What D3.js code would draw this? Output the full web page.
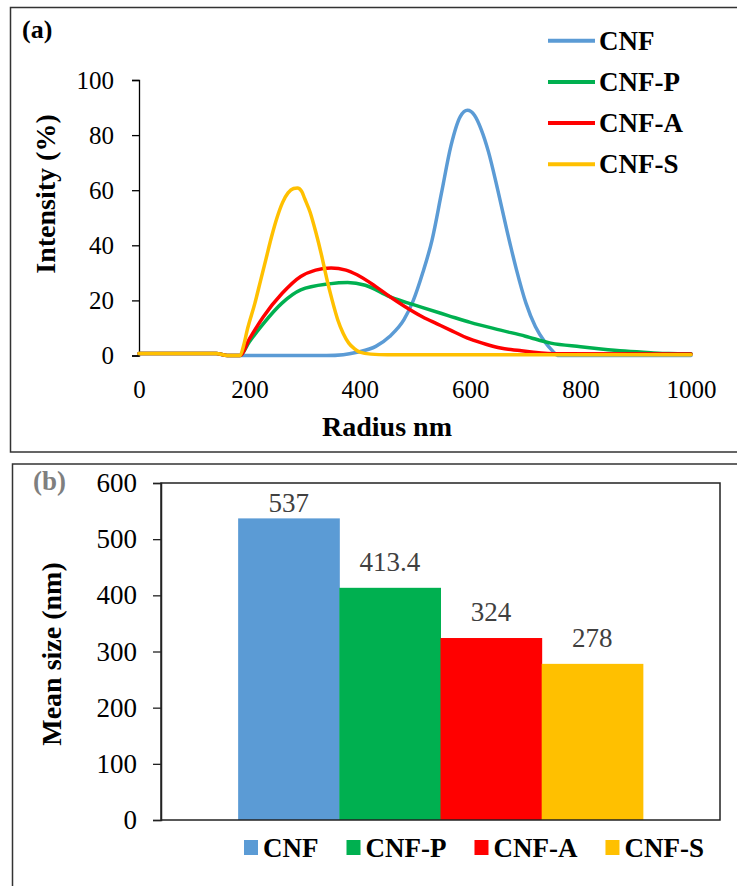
<!DOCTYPE html>
<html>
<head>
<meta charset="utf-8">
<script src="https://cdn.jsdelivr.net/npm/d3@7"></script>
<style>
  html, body { margin: 0; padding: 0; background: #fff; }
  svg { display: block; }
  svg text { font-family: "Liberation Serif", "DejaVu Serif", "Times New Roman", Times, serif; }
</style>
</head>
<body>
<svg id="chart" width="737" height="886"></svg>
<script>
// ---------- Data (panel a: intensity distributions) ----------
const seriesNames = ["CNF", "CNF-P", "CNF-A", "CNF-S"];
const seriesColors = ["#5B9BD5", "#00B050", "#FF0000", "#FFC000"];

const cnfX  = [0,140,160,340,370,395,429,454,480,497,514,531,548,565,582,595,608,620,633,650,667,684,701,718,735,750,758,1000];
const cnfY  = [0.7,0.7,0,0,0.3,1.2,3.3,6.9,13,20,30,42,59,76,86.7,89,87.1,82,74,60,45,31,19,10.5,5,1.5,0,0];

const cnfPX = [0,140,160,183,200,225,259,293,344,378,410,454,514,560,600,655,700,746,800,837,880,927,960,1000];
const cnfPY = [0.7,0.7,0,0,5,11.5,19,23.8,26,26.5,25.5,21.4,17.4,14.5,12,9.2,7,4.5,3.2,2.4,1.6,1.0,0.7,0.6];

const cnfAX = [0,140,160,183,200,225,259,293,320,348,375,395,429,454,480,514,540,564,599,630,655,690,715,760,1000];
const cnfAY = [0.7,0.7,0,0,6,14,22.5,28.7,31,31.8,31,29.3,25,21.4,18,14,11.5,9.2,6,4,2.7,1.8,1.2,0.6,0.5];

const cnfSX = [0,140,160,183,190,196,210,220,230,240,250,260,270,280,287,295,300,310,320,330,340,350,360,370,380,390,400,420,450,1000];
const cnfSY = [0.7,0.7,0,0,4,9.2,19,27,35,43,50,55.5,59,60.6,60.8,59.5,57,52,45,37,28,20,13,8,4.5,2.5,1.2,0.5,0.3,0.3];

const xTicksA = [0, 200, 400, 600, 800, 1000];
const yTicksA = [0, 20, 40, 60, 80, 100];

// ---------- Data (panel b: mean size) ----------
const meanSizes = [537, 413.4, 324, 278];
const meanLabels = ["537", "413.4", "324", "278"];
const yTicksB = [0, 100, 200, 300, 400, 500, 600];

const svg = d3.select("#chart");
const FONT = '"Liberation Serif", "DejaVu Serif", "Times New Roman", Times, serif';

// ================= Panel (a) =================
svg.append("rect").attr("x", 10.5).attr("y", 7.5).attr("width", 740).attr("height", 444.5)
  .attr("fill", "none").attr("stroke", "#333").attr("stroke-width", 1.5);

svg.append("text").attr("x", 22).attr("y", 38).attr("font-size", 26).attr("font-weight", "bold")
  .attr("font-family", FONT).attr("fill", "#000").text("(a)");

const xA = d3.scaleLinear().domain([0, 1000]).range([139, 691]);
const yA = d3.scaleLinear().domain([0, 100]).range([355.5, 80]);

const yAxisA = svg.append("g").attr("transform", "translate(139,0)")
  .call(d3.axisLeft(yA).tickValues(yTicksA).tickSize(7).tickPadding(18).tickFormat(d3.format("d")));
yAxisA.attr("font-family", FONT);
yAxisA.select(".domain").attr("stroke", "#000").attr("stroke-width", 1.3);
yAxisA.selectAll(".tick line").attr("stroke", "#000").attr("stroke-width", 1.3);
yAxisA.selectAll(".tick text").attr("font-size", 25).attr("font-family", FONT).attr("fill", "#000");

const xAxisA = svg.append("g").attr("transform", "translate(0,355.5)")
  .call(d3.axisBottom(xA).tickValues(xTicksA).tickSize(0).tickPadding(0).tickFormat(d3.format("d")));
xAxisA.attr("font-family", FONT);
xAxisA.select(".domain").remove();
xAxisA.selectAll(".tick text").attr("font-size", 25).attr("font-family", FONT).attr("fill", "#000")
  .attr("dy", 0).attr("y", 42.5);

svg.append("text").attr("x", 387).attr("y", 435.5).attr("text-anchor", "middle")
  .attr("font-family", FONT).attr("font-size", 28).attr("font-weight", "bold").text("Radius nm");

svg.append("text").attr("transform", "translate(55,194) rotate(-90)").attr("text-anchor", "middle")
  .attr("font-family", FONT).attr("font-size", 28).attr("font-weight", "bold").text("Intensity (%)");

const seriesA = [
  { name: seriesNames[0], xs: cnfX,  ys: cnfY,  color: seriesColors[0] },
  { name: seriesNames[1], xs: cnfPX, ys: cnfPY, color: seriesColors[1] },
  { name: seriesNames[2], xs: cnfAX, ys: cnfAY, color: seriesColors[2] },
  { name: seriesNames[3], xs: cnfSX, ys: cnfSY, color: seriesColors[3] }
];

const line = d3.line().x(d => xA(d[0])).y(d => yA(d[1])).curve(d3.curveMonotoneX);

svg.append("g").selectAll("path").data(seriesA).join("path")
  .attr("d", s => line(s.xs.map((x, i) => [x, s.ys[i]])))
  .attr("fill", "none").attr("stroke", s => s.color).attr("stroke-width", 3.5)
  .attr("stroke-linejoin", "round").attr("stroke-linecap", "round");

// legend (a)
const legA = svg.append("g");
seriesA.forEach((s, i) => {
  const ly = 40.7 + i * 41.2;
  legA.append("line").attr("x1", 548).attr("x2", 595).attr("y1", ly).attr("y2", ly)
    .attr("stroke", s.color).attr("stroke-width", 4);
  legA.append("text").attr("x", 599).attr("y", ly + 9).attr("font-size", 27).attr("font-weight", "bold")
    .attr("font-family", FONT).attr("fill", "#000").text(s.name);
});

// ================= Panel (b) =================
svg.append("rect").attr("x", 12.5).attr("y", 464).attr("width", 740).attr("height", 440)
  .attr("fill", "none").attr("stroke", "#333").attr("stroke-width", 1.5);

svg.append("text").attr("x", 33).attr("y", 490).attr("font-size", 27).attr("font-weight", "bold")
  .attr("font-family", FONT).attr("fill", "#7f7f7f").text("(b)");

const plotL = 161, plotR = 720, plotT = 483, plotB = 820;
const yB = d3.scaleLinear().domain([0, 600]).range([plotB, plotT]);
const xCat = d3.scaleBand().domain(["all"]).range([plotL, plotR]).paddingInner(0).paddingOuter(0);
const gapFrac = 0.138; // Excel gap width on each side of the cluster
const xB = d3.scaleBand().domain(seriesNames)
  .range([xCat("all") + xCat.bandwidth() * gapFrac, xCat("all") + xCat.bandwidth() * (1 - gapFrac)])
  .padding(0);

svg.append("g").selectAll("rect").data(meanSizes).join("rect")
  .attr("x", (d, i) => xB(seriesNames[i]))
  .attr("width", xB.bandwidth() + 0.5)
  .attr("y", d => yB(d))
  .attr("height", d => yB(0) - yB(d))
  .attr("fill", (d, i) => seriesColors[i]);

svg.append("g").selectAll("text").data(meanSizes).join("text")
  .attr("x", (d, i) => xB(seriesNames[i]) + xB.bandwidth() / 2)
  .attr("y", d => Math.max(yB(d) - 17, plotT + 29))
  .attr("text-anchor", "middle").attr("font-size", 27).attr("fill", "#404040")
  .attr("font-family", FONT)
  .text((d, i) => meanLabels[i]);

// plot area border
svg.append("rect").attr("x", plotL).attr("y", plotT).attr("width", plotR - plotL).attr("height", plotB - plotT)
  .attr("fill", "none").attr("stroke", "#222").attr("stroke-width", 1.5);

const yAxisB = svg.append("g").attr("transform", `translate(${plotL},0)`)
  .call(d3.axisLeft(yB).tickValues(yTicksB).tickSize(8).tickPadding(16).tickFormat(d3.format("d")));
yAxisB.attr("font-family", FONT);
yAxisB.select(".domain").attr("stroke", "#222").attr("stroke-width", 1.5);
yAxisB.selectAll(".tick line").attr("stroke", "#222").attr("stroke-width", 1.3);
yAxisB.selectAll(".tick text").attr("font-size", 27).attr("font-family", FONT).attr("fill", "#000");

svg.append("text").attr("transform", "translate(61,654) rotate(-90)").attr("text-anchor", "middle")
  .attr("font-family", FONT).attr("font-size", 28).attr("font-weight", "bold").text("Mean size (nm)");

// legend (b)
const legB = svg.append("g");
let lx = 244;
seriesNames.forEach((name, i) => {
  legB.append("rect").attr("x", lx).attr("y", 840).attr("width", 14).attr("height", 15)
    .attr("fill", seriesColors[i]);
  const t = legB.append("text").attr("x", lx + 19).attr("y", 857).attr("font-size", 27)
    .attr("font-family", FONT).attr("font-weight", "bold").attr("fill", "#000").text(name);
  lx += 19 + t.node().getComputedTextLength() + 28;
});
</script>
</body>
</html>
